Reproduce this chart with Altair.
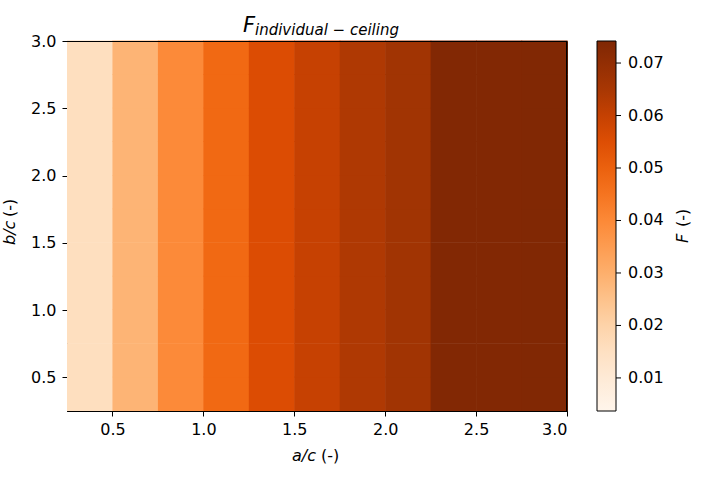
import altair as alt
import pandas as pd

# ---- data ----
x_edges = [0.25, 0.5, 0.75, 1.0, 1.25, 1.5, 1.75, 2.0, 2.25, 2.5, 2.75, 3.0]
y_edges = [0.25, 0.5, 0.75, 1.0, 1.25, 1.5, 1.75, 2.0, 2.25, 2.5, 2.75, 3.0]
# F value of each a/c column (constant along b/c)
col_values = [0.0155, 0.0286, 0.0397, 0.0477, 0.0554, 0.0599, 0.0638, 0.0666,
              0.0735, 0.0736, 0.0737]
cbar_ticks = [0.01, 0.02, 0.03, 0.04, 0.05, 0.06, 0.07]
x_ticks = [0.5, 1.0, 1.5, 2.0, 2.5, 3.0]
y_ticks = [0.5, 1.0, 1.5, 2.0, 2.5, 3.0]
vmin, vmax = 0.0037, 0.0742
oranges = ["#fff5eb", "#fee6ce", "#fdd0a2", "#fdae6b", "#fd8d3c",
           "#f16913", "#d94801", "#a63603", "#7f2704"]

rows = []
for i in range(len(x_edges) - 1):
    for j in range(len(y_edges) - 1):
        rows.append({"x0": x_edges[i], "x1": x_edges[i + 1],
                     "y0": y_edges[j], "y1": y_edges[j + 1],
                     "F": col_values[i]})
df = pd.DataFrame(rows)

n = len(oranges)
stops = [vmin + (vmax - vmin) * k / (n - 1) for k in range(n)]
color_scale = alt.Scale(type="linear", domain=stops, range=oranges, interpolate="rgb")

FONT = "DejaVu Sans"
W, H = 500, 370

heat = alt.Chart(df).mark_rect(x2Offset=0.6, y2Offset=-0.6).encode(
    x=alt.X("x0:Q", scale=alt.Scale(domain=[0.25, 3.0], nice=False, zero=False),
            axis=alt.Axis(values=x_ticks, format=".1f", title=None)),
    x2="x1:Q",
    y=alt.Y("y0:Q", scale=alt.Scale(domain=[0.25, 3.0], nice=False, zero=False),
            axis=alt.Axis(values=y_ticks, format=".1f", title=None)),
    y2="y1:Q",
    color=alt.Color("F:Q", scale=color_scale,
                    legend=alt.Legend(type="gradient", orient="none", legendX=530, legendY=0,
                                      direction="vertical", title=None,
                                      gradientLength=H, gradientThickness=19,
                                      gradientStrokeColor="black", gradientStrokeWidth=1,
                                      values=cbar_ticks, format=".2f",
                                      labelFont=FONT, labelFontSize=16, labelColor="black",
                                      labelOffset=12, labelOverlap=False, padding=0)),
)

one = pd.DataFrame({"k": [0]})
top_edge = alt.Chart(one).mark_rule(color="black", strokeWidth=1).encode(
    y=alt.value(0.5))
right_edge = alt.Chart(one).mark_rule(color="black", strokeWidth=1).encode(
    x=alt.value(W - 0.5))

tick_df = pd.DataFrame({"v": cbar_ticks})
cbar_ticks_layer = alt.Chart(tick_df).mark_rule(color="black", strokeWidth=1).encode(
    y=alt.Y("v:Q", scale=alt.Scale(domain=[vmin, vmax], nice=False, zero=False), axis=None),
    x=alt.value(549), x2=alt.value(554),
)

def txt(s, x, y, size=16, style="normal", angle=0, align="left", baseline="alphabetic"):
    return alt.Chart(pd.DataFrame({"t": [s]})).mark_text(
        font=FONT, fontSize=size, fontStyle=style, angle=angle, align=align,
        baseline=baseline, color="black",
    ).encode(text="t:N", x=alt.value(x), y=alt.value(y))

labels = [
    txt("F", 176, -9, size=21, style="italic"),
    txt("individual \u2212 ceiling", 188, -6, size=15, style="italic"),
    txt("a/c", 225, 420, style="italic"),
    txt("(-)", 254, 420),
    txt("b/c", -52, 204, style="italic", angle=270),
    txt("(-)", -52, 176, angle=270),
    txt("F", 621, 202, style="italic", angle=270),
    txt("(-)", 621, 186, angle=270),
]

chart = alt.layer(heat, top_edge, right_edge, cbar_ticks_layer, *labels).resolve_scale(
    y="independent"
).properties(
    width=W, height=H,
    autosize=alt.AutoSizeParams(type="none"),
    padding={"left": 67, "top": 41, "right": 142, "bottom": 71},
).configure_view(
    stroke="black", strokeWidth=1
).configure_axis(
    labelFont=FONT, labelFontSize=16, labelColor="black",
    domainColor="black", domainWidth=1, tickColor="black", tickSize=5,
    tickWidth=1, grid=False, labelPadding=5,
).configure_axisY(labelPadding=6)

chart.save("out.html", embed_options={"renderer": "svg", "actions": False})
